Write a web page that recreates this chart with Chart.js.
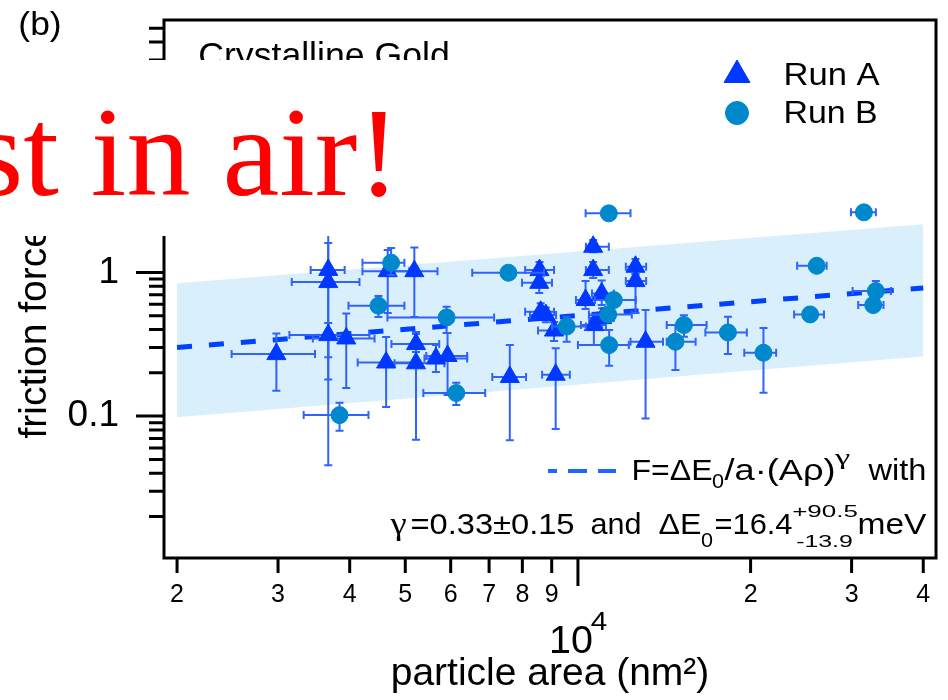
<!DOCTYPE html>
<html>
<head>
<meta charset="utf-8">
<script src="https://cdn.jsdelivr.net/npm/chart.js@4/dist/chart.umd.min.js"></script>
<style>
html,body{margin:0;padding:0;background:#fff;}
#wrap{position:relative;width:948px;height:700px;overflow:hidden;background:#fff;}
#c{position:absolute;left:0;top:0;}
#cover{position:absolute;left:0;top:60px;width:475px;height:176px;background:#fff;overflow:hidden;}
#shout{position:absolute;right:75px;top:27.8px;font-family:'Liberation Serif','Times New Roman',serif;font-size:128px;line-height:128px;color:#ff0000;white-space:nowrap;}
</style>
</head>
<body>
<div id="wrap">
<canvas id="c" width="948" height="700" style="width:948px;height:700px"></canvas>
<div id="cover"><span id="shout">st in air!</span></div>
</div>
<script>
const FONT = "'Liberation Sans', Arial, Helvetica, sans-serif";
const SERIF = "'Liberation Serif', 'Times New Roman', serif";

// ---- Run A (triangles) ----
const runA_area    = [2980, 3670, 3670, 3670, 3945, 4660, 5185, 4630, 5220, 5220, 5655, 5925, 7607, 9145, 8570, 8560, 8610, 8790, 9085, 10630, 10630, 10310, 11000, 10660, 11020, 12600, 12600, 13120];
const runA_force   = [0.27, 1.04, 0.856, 0.366, 0.347, 1.02, 1.02, 0.236, 0.233, 0.317, 0.252, 0.262, 0.187, 0.194, 1.037, 0.846, 0.532, 0.505, 0.394, 1.507, 1.037, 0.642, 0.714, 0.43, 0.481, 1.094, 0.87, 0.329];
const runA_areaLo  = [2490, 3420, 3170, 3140, 3450, 4210, 4730, 4130, 4790, 4730, 5400, 5440, 7090, 8660, 8090, 7990, 8090, 8250, 8520, 10325, 10325, 9920, 10580, 10120, 10460, 12120, 12120, 12350];
const runA_areaHi  = [3480, 3920, 4160, 4330, 4420, 5080, 5690, 5250, 5850, 5730, 6410, 6410, 8120, 9680, 9085, 9010, 9085, 9160, 9420, 11320, 11320, 10710, 11550, 11190, 11550, 13150, 13150, 14070];
const runA_forceLo = [0.150, 0.18, 0.0456, 0.257, 0.157, 0.521, 0.489, 0.1155, 0.0686, 0.279, 0.203, 0.140, 0.068, 0.0812, 0.913, 0.718, 0.47, 0.45, 0.3325, 1.38, 0.913, 0.5555, 0.592, 0.312, 0.397, 0.97, 0.521, 0.0964];
const runA_forceHi = [0.376, 1.60, 2.5, 0.444, 0.518, 1.43, 1.49, 0.355, 0.384, 0.372, 0.312, 0.378, 0.312, 0.297, 1.18, 0.98, 0.61, 0.57, 0.451, 1.68, 1.18, 0.87, 0.878, 0.504, 0.564, 1.24, 0.97, 0.547];

// ---- Run B (circles) ----
const runB_area    = [3840, 4724, 4489, 5902, 6135, 7565, 9557, 11320, 11550, 11290, 11335, 14790, 15305, 18260, 21060, 26080, 25400, 31520, 33070, 32720];
const runB_force   = [0.1016, 1.166, 0.586, 0.486, 0.1446, 0.994, 0.42, 2.574, 0.642, 0.51, 0.312, 0.329, 0.43, 0.382, 0.276, 1.111, 0.51, 2.616, 0.741, 0.592];
const runB_areaLo  = [3325, 4210, 3981, 4654, 5376, 6542, 9012, 10313, 10706, 10450, 10000, 14283, 14283, 16680, 19500, 24110, 23820, 29920, 30120, 30810];
const runB_areaHi  = [4313, 4982, 4982, 7143, 6892, 8728, 10325, 12350, 12617, 12415, 12267, 16040, 16760, 19700, 22160, 27140, 26850, 33070, 35130, 34100];
const runB_forceLo = [0.079, 0.957, 0.489, 0.378, 0.1193, 0.97, 0.329, 2.574, 0.60, 0.48, 0.224, 0.209, 0.356, 0.27, 0.1453, 1.05, 0.48, 2.616, 0.70, 0.56];
const runB_forceHi = [0.124, 1.476, 0.684, 0.576, 0.1705, 1.02, 0.491, 2.574, 0.69, 0.54, 0.397, 0.43, 0.504, 0.491, 0.4097, 1.17, 0.54, 2.616, 0.87, 0.63];

// ---- fit line and confidence band ----
const fitArea   = [2000, 40000];
const fitForce  = [0.30, 0.78];
const bandUpper = [0.84, 2.16];
const bandLower = [0.098, 0.26];

// ---- axes ----
const xMin = 1898, xMax = 42100;
const yMin = 0.0103, yMax = 57;
const xTickValues = [2000, 3000, 4000, 5000, 6000, 7000, 8000, 9000, 10000, 20000, 30000, 40000];
const xTickLabels = ['2', '3', '4', '5', '6', '7', '8', '9', '', '2', '3', '4'];
const xMajor = [10000];
const yTickValues = [0.02, 0.03, 0.04, 0.05, 0.06, 0.07, 0.08, 0.09, 0.1, 0.2, 0.3, 0.4, 0.5, 0.6, 0.7, 0.8, 0.9, 1, 2, 3, 4, 5, 6, 7, 8, 9, 10, 20, 30, 40, 50];
const yTickLabelMap = {0.1: '0.1', 1: '1', 10: '10'};
const yMajor = [0.1, 1, 10];

const colA = '#0038ff', colB = '#0088cc', colErr = '#2f62ff', colFit = '#0040ff', colBand = '#d9f0fc';

function pts(xs, ys) { return xs.map((v, i) => ({x: v, y: ys[i]})); }

function fitText(ctx, text, x0, x1, base, size, family) {
  ctx.font = size + 'px ' + (family || FONT);
  const w = ctx.measureText(text).width;
  const pad = 0.05 * size;
  const sx = (x1 - x0 + 2 * pad) / w;
  ctx.save();
  ctx.translate(x0 - pad, base);
  ctx.scale(sx, 1);
  ctx.textAlign = 'left';
  ctx.textBaseline = 'alphabetic';
  ctx.fillText(text, 0, 0);
  ctx.restore();
}

function marker(ctx, style, r, x, y, color) {
  ctx.save();
  ctx.fillStyle = color; ctx.strokeStyle = color; ctx.lineWidth = 1;
  ctx.beginPath();
  if (style === 'triangle') {
    let rad = 0;
    ctx.moveTo(x + Math.sin(rad) * r, y - Math.cos(rad) * r);
    rad += 2 * Math.PI / 3;
    ctx.lineTo(x + Math.sin(rad) * r, y - Math.cos(rad) * r);
    rad += 2 * Math.PI / 3;
    ctx.lineTo(x + Math.sin(rad) * r, y - Math.cos(rad) * r);
    ctx.closePath();
  } else {
    ctx.arc(x, y, r, 0, Math.PI * 2);
  }
  ctx.fill(); ctx.stroke();
  ctx.restore();
}

function zeroPad(s) { s.paddingTop = 0; s.paddingBottom = 0; s.paddingLeft = 0; s.paddingRight = 0; }

const errorBars = {
  id: 'errorBars',
  beforeDatasetDraw(chart, args) {
    const ds = chart.data.datasets[args.index];
    if (!ds.errors) return;
    const {ctx} = chart;
    const x = chart.scales.x, y = chart.scales.y;
    const e = ds.errors, cap = 4;
    ctx.save();
    ctx.strokeStyle = colErr; ctx.lineWidth = 2;
    ds.data.forEach((p, i) => {
      const px = x.getPixelForValue(p.x), py = y.getPixelForValue(p.y);
      const xl = x.getPixelForValue(e.xlo[i]), xh = x.getPixelForValue(e.xhi[i]);
      const yl = y.getPixelForValue(e.ylo[i]), yh = y.getPixelForValue(e.yhi[i]);
      ctx.beginPath();
      ctx.moveTo(xl, py); ctx.lineTo(xh, py);
      ctx.moveTo(xl, py - cap); ctx.lineTo(xl, py + cap);
      ctx.moveTo(xh, py - cap); ctx.lineTo(xh, py + cap);
      if (Math.abs(yl - yh) > 0.5) {
        ctx.moveTo(px, yh); ctx.lineTo(px, yl);
        ctx.moveTo(px - cap, yh); ctx.lineTo(px + cap, yh);
        ctx.moveTo(px - cap, yl); ctx.lineTo(px + cap, yl);
      }
      ctx.stroke();
    });
    ctx.restore();
  }
};

const decor = {
  id: 'decor',
  afterDraw(chart) {
    const {ctx, chartArea: a} = chart;
    const x = chart.scales.x, y = chart.scales.y;
    ctx.save();
    // frame
    ctx.strokeStyle = '#000'; ctx.lineWidth = 3; ctx.lineCap = 'butt';
    ctx.strokeRect(a.left, a.top, a.right - a.left, a.bottom - a.top);
    // tick marks
    ctx.beginPath();
    x.ticks.forEach(t => {
      const px = x.getPixelForValue(t.value);
      const len = xMajor.includes(t.value) ? 28 : 15;
      ctx.moveTo(px, a.bottom); ctx.lineTo(px, a.bottom + len);
    });
    y.ticks.forEach(t => {
      const py = y.getPixelForValue(t.value);
      const len = yMajor.includes(t.value) ? 28 : 15;
      ctx.moveTo(a.left, py); ctx.lineTo(a.left - len, py);
    });
    ctx.stroke();

    ctx.fillStyle = '#000';
    // 10^4 label below the decade tick
    const p4 = x.getPixelForValue(10000);
    fitText(ctx, '10', p4 - 27, p4 + 13, 653, 39);
    fitText(ctx, '4', p4 + 14, p4 + 28, 630, 25);

    // panel label and sample name
    fitText(ctx, '(b)', 20, 60, 35, 33);
    fitText(ctx, 'Crystalline Gold', 200, 448, 67, 35);

    // legend
    marker(ctx, 'triangle', 15, 737, 75, colA);
    marker(ctx, 'circle', 11.5, 737, 113, colB);
    ctx.fillStyle = '#000';
    fitText(ctx, 'Run A', 785, 878, 85, 32);
    fitText(ctx, 'Run B', 785, 876, 123, 32);

    // fit annotation
    ctx.save();
    ctx.strokeStyle = '#1f66ff'; ctx.lineWidth = 4;
    ctx.setLineDash([19, 11]); ctx.lineDashOffset = 10;
    ctx.beginPath(); ctx.moveTo(548, 471); ctx.lineTo(616, 471); ctx.stroke();
    ctx.restore();
    ctx.fillStyle = '#000';
    fitText(ctx, 'F=\u0394E', 633, 711, 480, 30);
    fitText(ctx, '0', 713, 723, 488, 20);
    fitText(ctx, '/a\u00b7(A\u03c1)', 726, 834, 480, 30);
    fitText(ctx, '\u03b3', 836, 849, 464, 22, SERIF);
    fitText(ctx, 'with', 870, 925, 480, 30);

    fitText(ctx, '\u03b3', 392, 405, 534, 32, SERIF);
    fitText(ctx, '=0.33\u00b10.15', 412, 573, 534, 30);
    fitText(ctx, 'and', 592, 640, 534, 30);
    fitText(ctx, '\u0394E', 660, 700, 534, 30);
    fitText(ctx, '0', 702, 712, 547, 20);
    fitText(ctx, '=16.4', 716, 791, 534, 30);
    fitText(ctx, '+90.5', 793, 857, 517, 17);
    fitText(ctx, '-13.9', 797, 852, 547, 17);
    fitText(ctx, 'meV', 859, 925, 534, 30);
    ctx.restore();
  }
};

const ctx = document.getElementById('c').getContext('2d');
new Chart(ctx, {
  type: 'scatter',
  data: {
    datasets: [
      {type: 'line', label: 'band upper', data: pts(fitArea, bandUpper), borderWidth: 0, borderColor: 'rgba(0,0,0,0)', pointRadius: 0, fill: '+1', backgroundColor: colBand, order: 5},
      {type: 'line', label: 'band lower', data: pts(fitArea, bandLower), borderWidth: 0, borderColor: 'rgba(0,0,0,0)', pointRadius: 0, fill: false, order: 5},
      {type: 'line', label: 'fit', data: pts(fitArea, fitForce), borderColor: colFit, borderWidth: 5, borderDash: [15, 17], pointRadius: 0, fill: false, order: 4},
      {label: 'Run A', data: pts(runA_area, runA_force), pointStyle: 'triangle', pointRadius: 11, backgroundColor: colA, borderColor: colA, borderWidth: 1, order: 1,
        errors: {xlo: runA_areaLo, xhi: runA_areaHi, ylo: runA_forceLo, yhi: runA_forceHi}},
      {label: 'Run B', data: pts(runB_area, runB_force), pointStyle: 'circle', pointRadius: 8.5, backgroundColor: colB, borderColor: colB, borderWidth: 1, order: 0,
        errors: {xlo: runB_areaLo, xhi: runB_areaHi, ylo: runB_forceLo, yhi: runB_forceHi}}
    ]
  },
  options: {
    responsive: false,
    animation: false,
    devicePixelRatio: 1,
    layout: {padding: {left: 0, top: 20, right: 10, bottom: 0}},
    plugins: {legend: {display: false}, tooltip: {enabled: false}},
    scales: {
      x: {
        type: 'logarithmic', position: 'bottom', min: xMin, max: xMax,
        grid: {display: false, drawTicks: false}, border: {display: false},
        afterBuildTicks: s => { s.ticks = xTickValues.map(v => ({value: v})); },
        afterFit: s => { s.height = 142; zeroPad(s); },
        ticks: {autoSkip: false, maxRotation: 0, minRotation: 0, padding: 22, color: '#000',
          font: {family: FONT, size: 25}, callback: (v, i) => xTickLabels[i]},
        title: {display: true, text: 'particle area (nm\u00b2)', color: '#000', font: {family: FONT, size: 39}, padding: {top: 0, bottom: 2}}
      },
      y: {
        type: 'logarithmic', position: 'left', min: yMin, max: yMax,
        grid: {display: false, drawTicks: false}, border: {display: false},
        afterBuildTicks: s => { s.ticks = yTickValues.map(v => ({value: v})); },
        afterFit: s => { s.width = 164; zeroPad(s); },
        ticks: {autoSkip: false, padding: 45, color: '#000',
          font: {family: FONT, size: 37}, callback: (v, i) => (yTickLabelMap[yTickValues[i]] || '')},
        title: {display: true, text: 'friction force (nN)', color: '#000', font: {family: FONT, size: 39}, padding: {top: 12, bottom: 0}}
      }
    }
  },
  plugins: [errorBars, decor]
});
</script>
</body>
</html>
